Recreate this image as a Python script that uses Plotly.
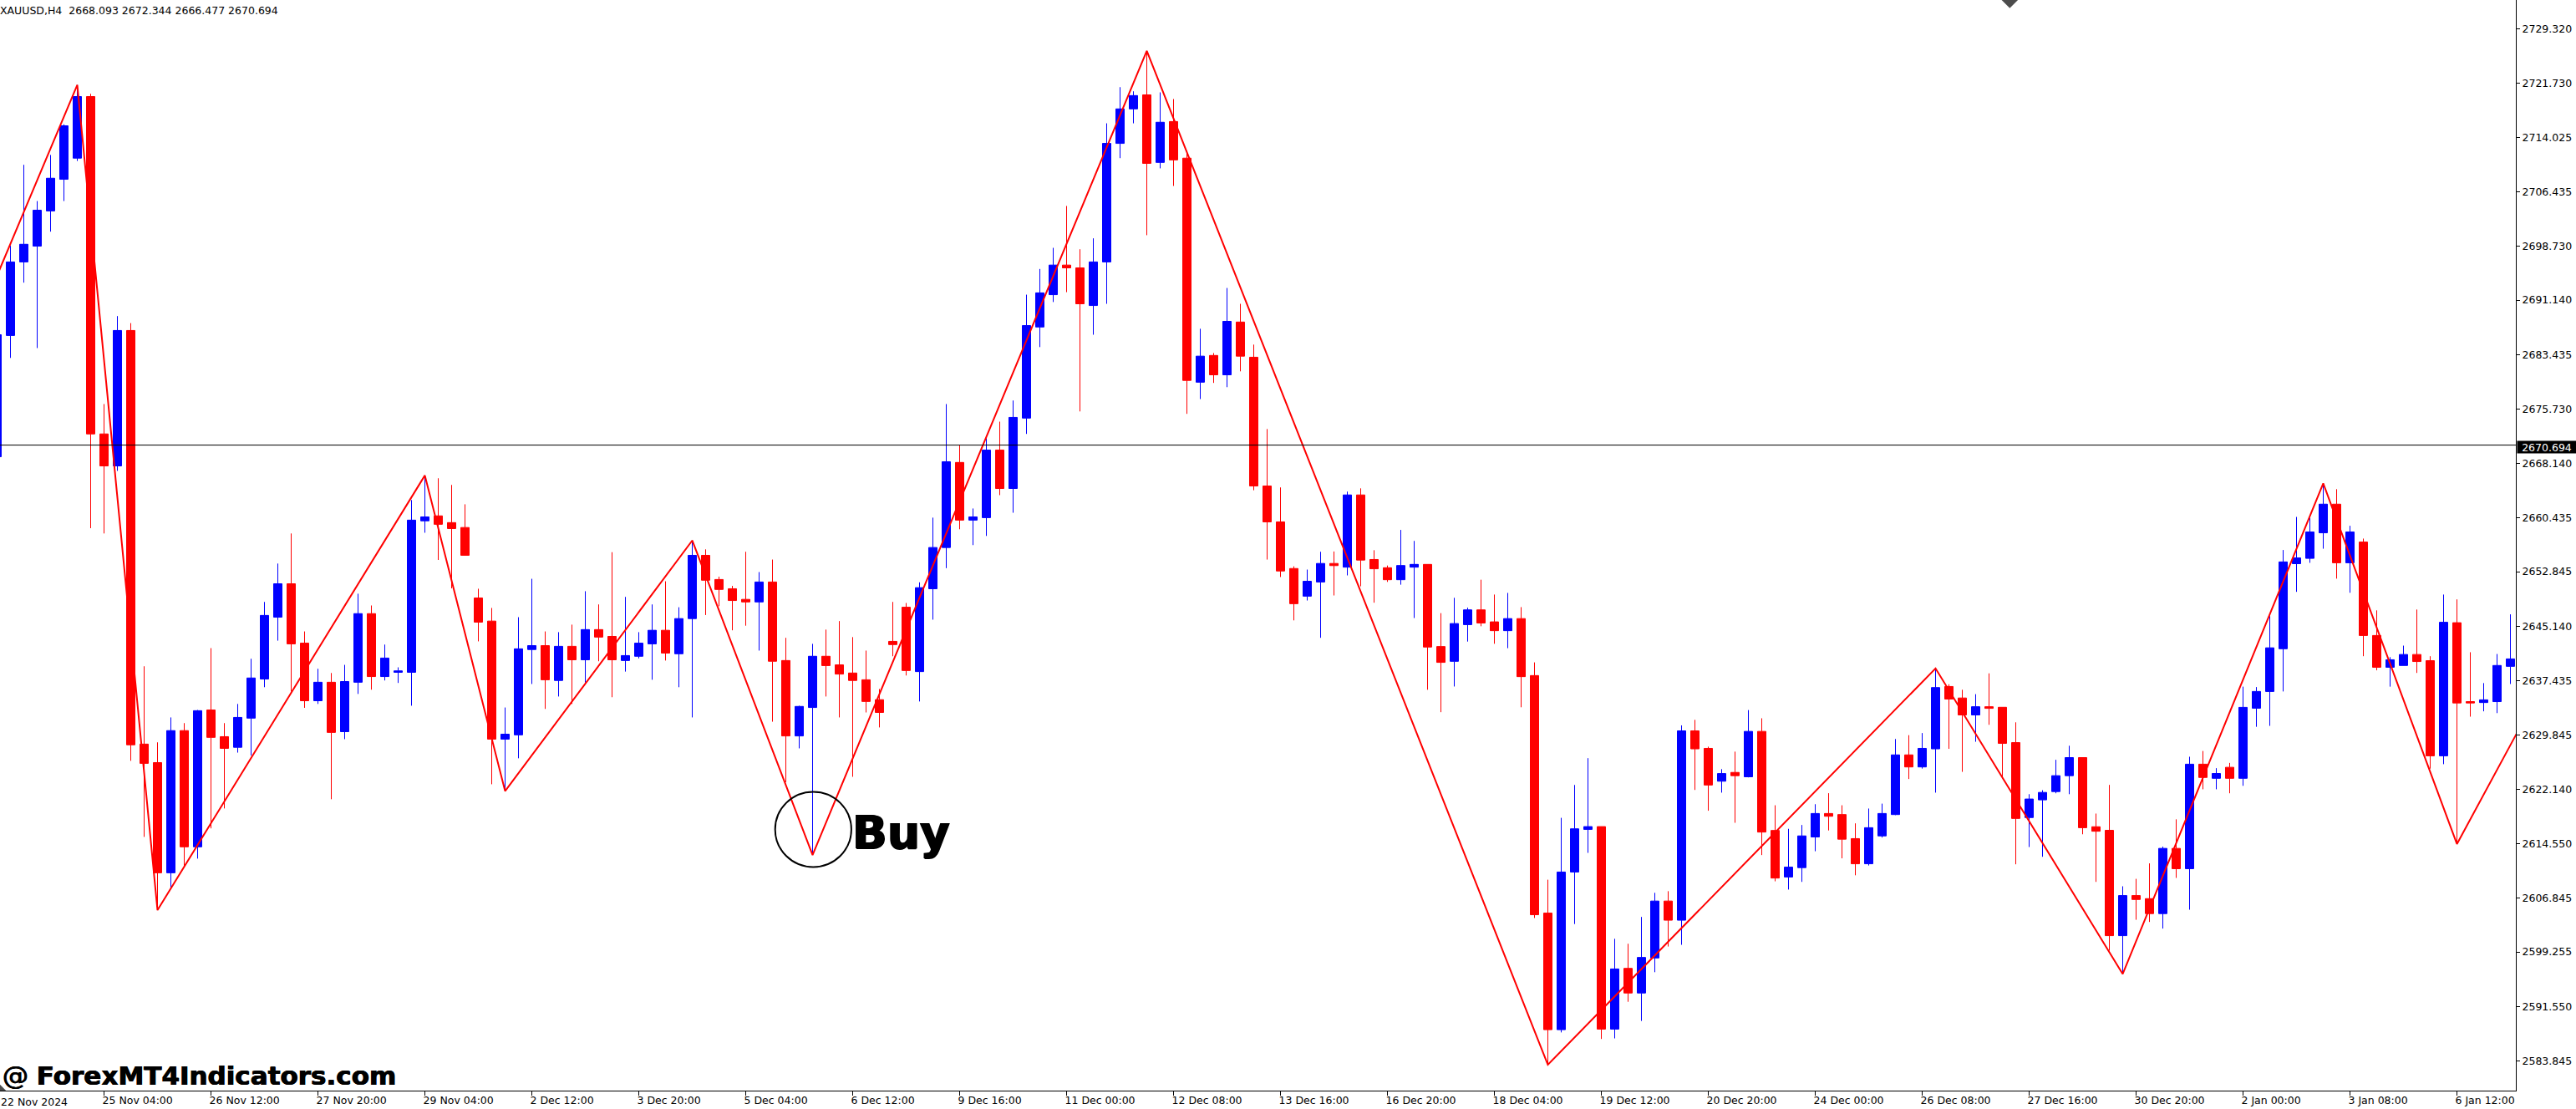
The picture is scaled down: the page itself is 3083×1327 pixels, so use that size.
import plotly.graph_objects as go

bar_index = list(range(-1, 188))

opens = [2669.05,
 2686.15,2696.51,2698.74,2703.70,2708.16,2711.14,2719.82,2672.27,2667.76,2686.85,
 2628.55,2625.94,2610.41,2630.45,2614.07,2633.36,2629.60,2628.10,2632.21,2637.72,
 2646.44,2651.15,2642.78,2634.66,2637.27,2630.30,2637.27,2646.94,2638.07,2638.67,
 2638.67,2660.02,2660.72,2659.77,2659.08,2649.15,2645.89,2629.25,2629.85,2641.88,
 2642.43,2637.52,2642.33,2640.43,2644.69,2643.73,2640.33,2640.93,2642.68,2644.59,
 2641.28,2646.24,2655.16,2651.75,2650.45,2648.95,2648.59,2651.40,2640.33,2629.70,
 2633.71,2640.93,2639.72,2638.57,2637.62,2634.81,2643.03,2647.84,2638.77,2650.45,
 2656.26,2668.25,2660.12,2660.47,2669.99,2664.58,2674.50,2687.34,2691.90,2696.07,
 2695.67,2690.37,2696.51,2713.22,2718.08,2720.06,2710.54,2716.30,2711.14,2679.56,
 2683.33,2680.60,2688.04,2683.08,2664.93,2659.87,2653.30,2649.40,2651.40,2654.01,
 2653.49,2663.67,2654.57,2653.41,2651.72,2653.49,2653.88,2642.30,2640.22,2645.39,
 2647.47,2645.78,2644.54,2646.24,2638.21,2604.73,2588.30,2610.52,2616.53,2616.92,
 2588.38,2596.94,2593.47,2598.41,2606.43,2603.73,2630.42,2627.95,2623.32,2624.56,
 2623.94,2630.34,2616.38,2609.82,2611.14,2615.46,2618.77,2618.62,2615.23,2611.68,
 2615.61,2618.62,2627.03,2625.33,2627.88,2636.67,2635.05,2632.66,2633.82,2633.74,
 2628.76,2618.20,2620.69,2621.86,2624.10,2626.65,2616.90,2616.40,2601.55,2607.20,
 2606.77,2604.66,2613.85,2610.99,2625.72,2623.73,2625.28,2623.73,2633.61,2635.97,
 2641.99,2653.98,2654.73,2658.33,2662.37,2654.11,2657.03,2643.86,2639.38,2639.63,
 2641.18,2640.31,2626.90,2645.66,2634.54,2634.41,2634.54,2639.51]

highs = [2686.25,
 2698.79,2710.20,2705.09,2711.59,2715.90,2721.45,2720.21,2676.48,2688.88,2687.89,
 2639.52,2628.80,2632.31,2631.51,2633.36,2642.08,2631.51,2634.21,2640.58,2648.59,
 2654.00,2658.24,2644.43,2639.17,2638.57,2639.72,2649.75,2648.09,2642.58,2639.37,
 2662.95,2666.42,2666.02,2665.08,2662.35,2650.45,2647.74,2633.71,2646.44,2651.85,
 2644.43,2644.33,2645.39,2650.10,2648.24,2655.60,2649.30,2644.33,2648.24,2651.50,
 2647.84,2657.25,2656.00,2652.15,2650.85,2655.66,2652.80,2654.56,2643.53,2633.96,
 2642.68,2644.69,2645.89,2643.63,2641.73,2636.32,2648.59,2648.44,2651.35,2660.47,
 2676.48,2670.68,2661.76,2671.67,2674.00,2676.98,2691.90,2695.52,2698.50,2704.40,
 2698.30,2699.84,2716.05,2721.15,2720.56,2726.26,2720.41,2719.47,2712.18,2687.09,
 2683.67,2692.84,2690.61,2684.86,2672.96,2664.73,2653.61,2653.15,2655.66,2655.70,
 2664.14,2664.60,2655.88,2653.72,2658.74,2657.19,2653.88,2647.01,2649.17,2647.78,
 2651.72,2649.63,2649.86,2647.86,2640.07,2609.44,2618.16,2622.79,2626.57,2616.92,
 2601.11,2600.41,2604.19,2607.59,2607.82,2631.19,2631.97,2628.19,2625.02,2627.49,
 2633.35,2632.19,2619.93,2616.61,2617.15,2620.08,2621.63,2619.93,2617.38,2619.47,
 2620.16,2629.27,2629.81,2630.11,2639.22,2636.98,2636.21,2635.59,2638.52,2633.74,
 2631.62,2621.49,2622.05,2626.34,2628.32,2626.65,2618.76,2622.80,2608.51,2609.56,
 2611.74,2614.10,2617.95,2626.77,2627.58,2625.16,2625.90,2636.65,2636.59,2646.59,
 2655.91,2660.57,2660.44,2665.29,2664.48,2659.32,2657.52,2647.40,2640.81,2642.43,
 2647.52,2640.94,2649.63,2648.95,2641.50,2637.15,2641.25,2646.84]

lows = [2669.05,
 2682.98,2693.59,2684.37,2700.78,2705.09,2710.74,2658.98,2658.24,2667.06,2626.19,
 2615.47,2605.15,2608.26,2611.16,2612.41,2616.67,2619.48,2627.35,2626.95,2636.57,
 2643.13,2635.97,2633.66,2634.21,2620.78,2629.25,2635.62,2636.22,2637.52,2637.17,
 2633.96,2658.34,2654.51,2650.50,2655.16,2643.03,2622.89,2621.93,2626.55,2637.02,
 2633.51,2635.26,2634.21,2637.22,2640.23,2635.16,2638.77,2640.63,2637.62,2640.33,
 2636.57,2632.31,2646.74,2647.99,2644.59,2645.24,2641.73,2631.71,2623.19,2627.95,
 2612.92,2635.26,2632.31,2623.94,2633.01,2630.90,2640.93,2638.22,2634.56,2646.09,
 2653.35,2658.83,2656.60,2657.89,2663.64,2661.16,2672.27,2684.51,2690.86,2692.25,
 2675.44,2686.25,2690.61,2711.14,2716.05,2700.28,2709.70,2707.22,2675.10,2677.18,
 2679.46,2678.86,2681.09,2664.33,2654.56,2652.10,2645.99,2648.79,2643.53,2649.50,
 2652.33,2650.79,2648.48,2651.41,2651.02,2646.32,2636.21,2633.05,2636.67,2643.00,
 2645.16,2642.69,2642.07,2633.74,2604.04,2583.36,2587.91,2603.19,2613.22,2586.99,
 2587.07,2592.23,2589.53,2596.40,2600.02,2600.26,2622.09,2619.16,2621.71,2617.46,
 2623.86,2612.91,2609.21,2608.05,2609.13,2613.45,2616.38,2612.45,2610.06,2611.44,
 2615.38,2618.54,2623.63,2625.10,2621.71,2627.88,2624.64,2628.88,2631.27,2623.71,
 2611.61,2614.04,2612.67,2621.62,2621.49,2615.84,2609.13,2599.44,2596.15,2603.79,
 2603.48,2602.55,2609.69,2605.21,2622.18,2622.18,2621.62,2622.67,2630.99,2631.12,
 2635.97,2650.01,2654.10,2656.09,2651.87,2649.88,2640.94,2638.95,2636.65,2639.63,
 2638.58,2625.09,2625.72,2614.47,2632.42,2633.17,2632.92,2637.02]

closes = [2686.25,
 2696.51,2699.00,2703.80,2708.31,2715.70,2719.82,2672.27,2667.76,2686.85,2628.45,
 2625.84,2610.41,2630.45,2614.07,2633.26,2629.50,2627.95,2632.31,2637.87,2646.69,
 2651.15,2642.68,2634.66,2637.27,2630.20,2637.37,2646.94,2638.07,2640.68,2638.87,
 2660.12,2660.57,2659.53,2658.93,2655.16,2645.74,2629.25,2629.95,2641.98,2642.43,
 2637.62,2642.33,2640.43,2644.69,2643.63,2640.43,2641.03,2642.78,2644.59,2641.38,
 2646.24,2655.16,2651.65,2650.35,2648.79,2648.59,2651.40,2640.23,2629.70,2633.86,
 2640.93,2639.62,2638.42,2637.52,2634.56,2633.01,2642.58,2638.92,2650.60,2656.26,
 2668.35,2660.12,2660.57,2669.99,2664.58,2674.60,2687.54,2692.15,2696.07,2695.67,
 2690.61,2696.51,2713.22,2718.08,2719.96,2710.40,2716.20,2710.89,2679.81,2683.23,
 2680.60,2688.14,2683.23,2664.93,2659.87,2652.95,2648.34,2651.50,2654.01,2653.71,
 2663.67,2654.49,2653.26,2651.72,2653.72,2653.88,2642.23,2640.07,2645.54,2647.47,
 2645.62,2644.54,2646.24,2638.06,2604.50,2588.30,2610.52,2616.61,2616.92,2588.38,
 2596.86,2593.47,2598.48,2606.43,2603.73,2630.42,2627.88,2622.78,2624.40,2624.10,
 2630.34,2616.15,2609.67,2611.21,2615.61,2618.77,2618.38,2615.15,2611.68,2616.77,
 2618.77,2627.03,2625.33,2627.95,2636.52,2634.90,2632.66,2633.82,2633.59,2628.65,
 2618.07,2620.81,2621.74,2624.10,2626.65,2616.77,2616.27,2601.55,2607.20,2606.65,
 2604.66,2613.85,2610.99,2625.72,2623.85,2624.41,2623.73,2633.73,2635.97,2642.12,
 2654.23,2654.79,2658.45,2662.37,2654.11,2658.45,2643.86,2639.38,2640.44,2641.18,
 2640.19,2626.90,2645.72,2634.35,2634.35,2634.79,2639.63,2640.56]

zigzag_index = [-1, 5, 11, 31, 37, 51, 60, 85, 115, 144, 158, 173, 183, 188]
zigzag_price = [2694.6, 2721.45, 2605.15, 2666.42, 2621.93, 2657.25, 2612.92, 2726.26,
                2583.36, 2639.22, 2596.15, 2665.29, 2614.47, 2631.9]

y_ticks = [2729.320, 2721.730, 2714.025, 2706.435, 2698.730, 2691.140, 2683.435, 2675.730,
           2668.140, 2660.435, 2652.845, 2645.140, 2637.435, 2629.845, 2622.140, 2614.550,
           2606.845, 2599.255, 2591.550, 2583.845]
x_tick_index = [7, 15, 23, 31, 39, 47, 55, 63, 71, 79, 87, 95, 103, 111, 119, 127, 135, 143,
                151, 159, 167, 175, 183]
x_tick_text = ["25 Nov 04:00", "26 Nov 12:00", "27 Nov 20:00", "29 Nov 04:00", "2 Dec 12:00",
               "3 Dec 20:00", "5 Dec 04:00", "6 Dec 12:00", "9 Dec 16:00", "11 Dec 00:00",
               "12 Dec 08:00", "13 Dec 16:00", "16 Dec 20:00", "18 Dec 04:00", "19 Dec 12:00",
               "20 Dec 20:00", "24 Dec 00:00", "26 Dec 08:00", "27 Dec 16:00", "30 Dec 20:00",
               "2 Jan 00:00", "3 Jan 08:00", "6 Jan 12:00"]
first_tick_text = "22 Nov 2024"
last_price = 2670.694
header_text = "XAUUSD,H4  2668.093 2672.344 2666.477 2670.694"
watermark = "@ <b>ForexMT4Indicators.com</b>"
signal_text = "Buy"
signal_box = dict(x0=57.2, x1=62.9, y0=2611.23, y1=2621.83)
signal_label_at = (62.85, 2616.15)
marker_points_x = [149.55, -0.78]
marker_points_y = [2733.43, 2579.71]
marker_points_size = [15, 11]

X_RANGE = [-0.78125, 187.40625]
Y_RANGE = [2579.71, 2733.43]
FONT = "DejaVu Sans"
TICK_SIZE = 12.5

fig = go.Figure()
fig.add_trace(go.Candlestick(
    x=bar_index, open=opens, high=highs, low=lows, close=closes,
    increasing=dict(line=dict(color="#0000ff", width=1), fillcolor="#0000ff"),
    decreasing=dict(line=dict(color="#ff0000", width=1), fillcolor="#ff0000"),
    hoverinfo="skip", showlegend=False))
fig.add_trace(go.Scatter(
    x=zigzag_index, y=zigzag_price, mode="lines",
    line=dict(color="#ff0000", width=2), hoverinfo="skip", showlegend=False))
fig.add_trace(go.Scatter(
    x=marker_points_x, y=marker_points_y, mode="markers",
    marker=dict(symbol="diamond", size=marker_points_size, color="#000000", line=dict(width=0)),
    hoverinfo="skip", showlegend=False))

fig.add_hline(y=last_price, line=dict(color="#000000", width=1))
fig.add_shape(type="circle", xref="x", yref="y", line=dict(color="#000000", width=2),
              fillcolor="rgba(0,0,0,0)", **signal_box)

fig.add_annotation(x=signal_label_at[0], y=signal_label_at[1], xref="x", yref="y", text=f"<b>{signal_text}</b>",
                   showarrow=False, xanchor="left", yanchor="middle",
                   font=dict(family=FONT, size=55, color="#000000",
                             shadow="1px 0 0 #000, -1px 0 0 #000, 0 1px 0 #000"))
fig.add_annotation(x=0, y=1, xref="paper", yref="paper", text=header_text, showarrow=False,
                   xanchor="left", yanchor="top", xshift=-1, yshift=-4, borderpad=0,
                   font=dict(family=FONT, size=TICK_SIZE, color="#000000"))
fig.add_annotation(x=0, y=0, xref="paper", yref="paper", text=watermark, showarrow=False,
                   xanchor="left", yanchor="bottom", xshift=2, yshift=-1, borderpad=0,
                   font=dict(family=FONT, size=31, color="#000000", shadow="0.5px 0 0 #000, -0.5px 0 0 #000"))
fig.add_annotation(x=0, y=0, xref="paper", yref="paper", text=first_tick_text, showarrow=False,
                   xanchor="left", yanchor="top", xshift=0, yshift=-5, borderpad=0,
                   font=dict(family=FONT, size=TICK_SIZE, color="#000000"))
fig.add_annotation(x=1, y=last_price, xref="paper", yref="y", text=f"{last_price:.3f}", showarrow=False,
                   xanchor="left", yanchor="middle", xshift=1, yshift=-2, width=70, height=14, borderpad=0,
                   bgcolor="#000000", align="center",
                   font=dict(family=FONT, size=TICK_SIZE, color="#ffffff"))

fig.update_layout(
    width=3083, height=1327, autosize=False,
    margin=dict(l=0, r=72, t=0, b=22, pad=0),
    paper_bgcolor="#ffffff", plot_bgcolor="#ffffff",
    boxgap=0.2, boxgroupgap=0.22, showlegend=False, dragmode=False,
    font=dict(family=FONT, size=TICK_SIZE, color="#000000"),
    xaxis=dict(
        type="linear", range=X_RANGE, rangeslider=dict(visible=False), showgrid=False, zeroline=False,
        tickmode="array", tickvals=x_tick_index, ticktext=x_tick_text,
        ticks="outside", ticklen=5, tickwidth=1, tickcolor="#000000",
        showline=True, linecolor="#000000", linewidth=1,
        ticklabelposition="outside right", ticklabelshift=-3, tickangle=0, ticklabeloverflow="allow"),
    yaxis=dict(
        type="linear", range=Y_RANGE, side="right", showgrid=False, zeroline=False,
        tickmode="array", tickvals=y_ticks, ticktext=[f"{v:.3f}" for v in y_ticks],
        ticks="outside", ticklen=4, tickwidth=1, tickcolor="#000000",
        showline=True, linecolor="#000000", linewidth=1, ticklabeloverflow="allow"),
)

fig.write_html("out.html", config=dict(displayModeBar=False),
               post_script="document.body.style.margin='0';document.body.style.overflow='hidden';")
